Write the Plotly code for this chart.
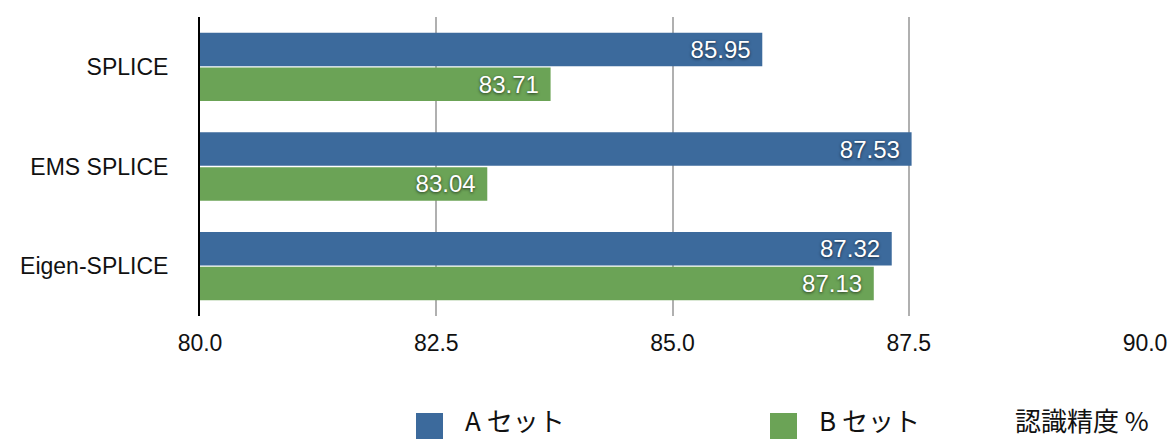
import plotly.graph_objects as go

# Recognition accuracy (%) per method for two evaluation sets
methods = ["SPLICE", "EMS SPLICE", "Eigen-SPLICE"]
set_a = [85.95, 87.53, 87.32]
set_b = [83.71, 83.04, 87.13]
series_names = ["A セット", "B セット"]
axis_title = "認識精度 %"
x_ticks = [80.0, 82.5, 85.0, 87.5, 90.0]

BLUE = "#3C6A9C"
GREEN = "#6BA356"
LATIN = "Liberation Sans, Arial, Helvetica, sans-serif"
CJK = "Noto Sans CJK JP, Liberation Sans, sans-serif"

W, H = 1170, 439
ML, MR, MT, MB = 200, 25, 17, 123


def px_x(px):
    return (px - ML) / (W - ML - MR)


def px_y(py):
    return (H - MB - py) / (H - MT - MB)


fig = go.Figure()
# horizontal groups stack upward from the first trace, so B goes in first to sit below A
for name, vals, col in [(series_names[1], set_b, GREEN), (series_names[0], set_a, BLUE)]:
    fig.add_trace(go.Bar(
        name=name,
        y=methods,
        x=[v - 80 for v in vals],
        base=80,
        orientation="h",
        marker=dict(color=col, line=dict(width=0)),
        text=[f"{v:.2f}\u00a0\u200a" for v in vals],
        textposition="inside",
        insidetextanchor="end",
        textfont=dict(color="white", size=24, family=LATIN,
                      shadow="0px 1px 3px rgba(0,0,0,0.65)"),
        cliponaxis=False,
        showlegend=False,
    ))

fig.update_layout(
    width=W, height=H,
    margin=dict(l=ML, r=MR, t=MT, b=MB, autoexpand=False),
    paper_bgcolor="white", plot_bgcolor="white",
    barmode="group", bargap=0.3, bargroupgap=0.04,
    font=dict(family=LATIN, size=23, color="#111111"),
    showlegend=False,
)
fig.update_xaxes(
    range=[80, 90], tickvals=x_ticks, ticktext=[f"{t:.1f}" for t in x_ticks],
    showgrid=True, gridcolor="#B0B0B0", gridwidth=2,
    zeroline=False, showline=False, ticks="", ticklabelstandoff=11,
    tickfont=dict(size=23, color="#111111"), automargin=False,
)
fig.update_yaxes(
    categoryorder="array", categoryarray=methods[::-1],
    autorange=False, range=[-0.5, 2.5],
    showgrid=False, zeroline=False,
    showline=True, linecolor="#000000", linewidth=2,
    ticks="", ticklabelstandoff=25, automargin=False,
    tickfont=dict(size=23, color="#111111"),
)

# Legend drawn underneath the axis
legend_items = [(series_names[0], BLUE, 416), (series_names[1], GREEN, 770)]
for label, col, x0 in legend_items:
    fig.add_shape(type="rect", xref="paper", yref="paper",
                  x0=px_x(x0), x1=px_x(x0 + 27), y0=px_y(440), y1=px_y(413),
                  fillcolor=col, line=dict(width=0))
    fig.add_annotation(xref="paper", yref="paper", x=px_x(x0 + 48), y=px_y(419),
                       text=label, showarrow=False, xanchor="left", yanchor="middle",
                       borderpad=0,
                       font=dict(family=CJK, size=26, color="#111111"))
fig.add_annotation(xref="paper", yref="paper", x=px_x(1014), y=px_y(419),
                   text=axis_title, showarrow=False, xanchor="left", yanchor="middle",
                   borderpad=0,
                   font=dict(family=CJK, size=26, color="#111111"))

fig.write_html("out.html")
